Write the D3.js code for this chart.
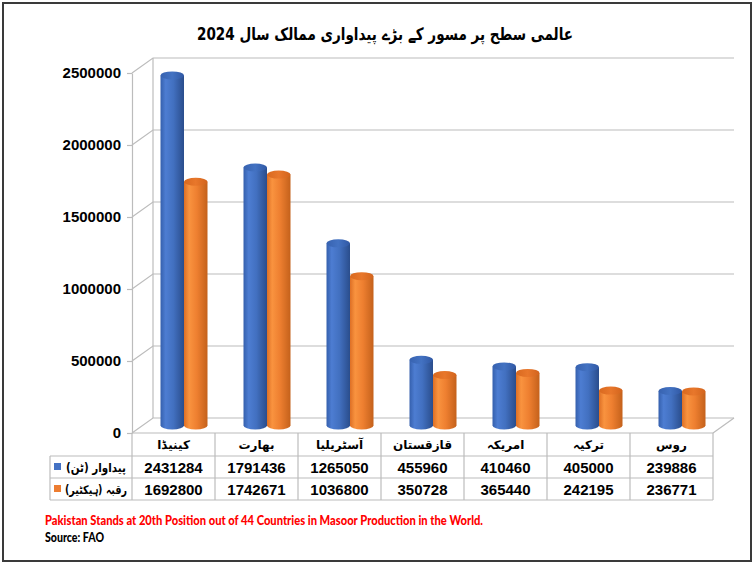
<!DOCTYPE html>
<html>
<head>
<meta charset="utf-8">
<script src="https://cdn.jsdelivr.net/npm/d3@7"></script>
<style>
  html, body { margin: 0; padding: 0; background: #fff; }
  svg { display: block; }
</style>
</head>
<body>
<svg id="chart" width="753" height="568"></svg>
<script>
// Lentil (masoor) production and harvested area of leading countries, 2024
const categories = ["کینیڈا", "بھارت", "آسٹریلیا", "قازقستان", "امریکہ", "ترکیہ", "روس"];
const production = [2431284, 1791436, 1265050, 455960, 410460, 405000, 239886];
const area = [1692800, 1742671, 1036800, 350728, 365440, 242195, 236771];
const seriesNames = ["پیداوار (ٹن)", "رقبہ (ہیکٹیر)"];
const yTicks = [0, 500000, 1000000, 1500000, 2000000, 2500000];
const titleText = "عالمی سطح پر مسور کے بڑے پیداواری ممالک سال 2024";
const noteText = "Pakistan Stands at 20th Position out of 44 Countries in Masoor Production in the World.";
const sourceText = "Source: FAO";

const series = [production, area];
const seriesKeys = ["blue", "orange"];
const keyColors = ["#4472C4", "#ED7D31"];

const svg = d3.select("#chart");
const W = 753, H = 568;

// frame layout
const plotLeft = 132, plotRight = 713, plotBase = 433, plotTop = 73;
const depthX = 21, depthY = -15;          // full depth of the 3-D floor
const gridColor = "#bcbcbc";
const rtl = s => "\u202B" + s + "\u202C";
const arabicFont = "'DejaVu Sans', 'Noto Sans', sans-serif";
const latinFont = "'Liberation Sans', Arial, sans-serif";

const x = d3.scaleBand().domain(categories).range([plotLeft, plotRight]).paddingInner(0).paddingOuter(0);
const y = d3.scaleLinear().domain([0, 2500000]).range([plotBase, plotTop]);

// outer border
svg.append("rect")
  .attr("x", 3).attr("y", 3).attr("width", W - 5).attr("height", 558)
  .attr("fill", "none").attr("stroke", "#3a3a3a").attr("stroke-width", 2);

// gradients for the cylinders
const defs = svg.append("defs");
function bodyGrad(id, stops) {
  const g = defs.append("linearGradient").attr("id", id)
    .attr("x1", "0").attr("x2", "1").attr("y1", "0").attr("y2", "0");
  stops.forEach(([o, c]) => g.append("stop").attr("offset", o).attr("stop-color", c));
}
bodyGrad("body-blue", [[0, "#3560ad"], [0.22, "#4d7dd2"], [0.55, "#4270c0"], [1, "#2a4d8c"]]);
bodyGrad("body-orange", [[0, "#dd6f25"], [0.22, "#f9933f"], [0.55, "#ee7f30"], [1, "#c4611b"]]);
bodyGrad("top-blue", [[0, "#3762b0"], [0.5, "#4372c2"], [1, "#3058a4"]]);
bodyGrad("top-orange", [[0, "#d9691f"], [0.5, "#e8772b"], [1, "#d2641d"]]);

// back wall gridlines and floor
const grid = svg.append("g");
yTicks.forEach(t => {
  const yy = y(t);
  grid.append("path")
    .attr("d", `M${plotLeft},${yy}L${plotLeft + depthX},${yy + depthY}L${plotRight + depthX},${yy + depthY}`)
    .attr("fill", "none").attr("stroke", gridColor).attr("stroke-width", 1.2);
});
grid.append("line")
  .attr("x1", plotLeft + depthX).attr("x2", plotLeft + depthX)
  .attr("y1", y(2500000) + depthY).attr("y2", plotBase + depthY)
  .attr("stroke", gridColor).attr("stroke-width", 1.2);
grid.append("path")
  .attr("d", `M${plotRight},${plotBase}L${plotRight + depthX},${plotBase + depthY}`)
  .attr("fill", "none").attr("stroke", gridColor).attr("stroke-width", 1.2);

// value axis on the front-left edge
const axis = svg.append("g")
  .attr("transform", `translate(${plotLeft},0)`)
  .call(d3.axisLeft(y).tickValues(yTicks).tickFormat(d3.format("d")).tickSize(5).tickSizeOuter(0).tickPadding(6));
axis.select(".domain").attr("stroke", gridColor).attr("stroke-width", 1.2);
axis.selectAll(".tick line").attr("stroke", gridColor).attr("stroke-width", 1.2);
axis.selectAll(".tick text")
  .attr("font-family", latinFont).attr("font-weight", "bold").attr("font-size", 15)
  .attr("fill", "#000");

// cylinders
const bw = 23.5;
const groupW = bw * 2;
const midX = depthX / 2, midY = depthY / 2;
const rx = bw / 2, ry = 4;
const bars = svg.append("g");
categories.forEach((c, i) => {
  const x0 = x(c) + (x.bandwidth() - groupW) / 2 + midX;
  series.forEach((vals, s) => {
    const bx = x0 + s * bw;
    const yb = y(0) + midY;
    const yt = y(vals[i]) + midY;
    const g = bars.append("g");
    g.append("path")
      .attr("d", `M${bx},${yt}L${bx},${yb}A${rx},${ry} 0 0 0 ${bx + bw},${yb}L${bx + bw},${yt}Z`)
      .attr("fill", `url(#body-${seriesKeys[s]})`);
    g.append("ellipse")
      .attr("cx", bx + rx).attr("cy", yt).attr("rx", rx).attr("ry", ry)
      .attr("fill", `url(#top-${seriesKeys[s]})`);
  });
});

// data table
const tableLeft = 50, rowTops = [plotBase, 456, 478, 500];
const table = svg.append("g");
const lineColor = "#bcbcbc";
table.append("line").attr("x1", plotLeft).attr("x2", plotRight).attr("y1", plotBase).attr("y2", plotBase)
  .attr("stroke", gridColor).attr("stroke-width", 1.2);
[456, 478, 500].forEach(yy => {
  table.append("line").attr("x1", tableLeft).attr("x2", plotRight).attr("y1", yy).attr("y2", yy)
    .attr("stroke", lineColor).attr("stroke-width", 1.2);
});
table.append("line").attr("x1", tableLeft).attr("x2", tableLeft).attr("y1", 456).attr("y2", 500)
  .attr("stroke", lineColor).attr("stroke-width", 1.2);
categories.forEach(c => {
  table.append("line").attr("x1", x(c)).attr("x2", x(c)).attr("y1", plotBase).attr("y2", 500)
    .attr("stroke", lineColor).attr("stroke-width", 1.2);
});
table.append("line").attr("x1", plotRight).attr("x2", plotRight).attr("y1", plotBase).attr("y2", 500)
  .attr("stroke", lineColor).attr("stroke-width", 1.2);

// category headers
categories.forEach(c => {
  table.append("text")
    .attr("x", x(c) + x.bandwidth() / 2).attr("y", 449)
    .attr("text-anchor", "middle")
    .attr("font-family", arabicFont).attr("font-weight", "bold").attr("font-size", 12)
    .attr("fill", "#000")
    .text(rtl(c));
});

// series rows
const labelWidths = [60, 62];
series.forEach((vals, s) => {
  const rowY = rowTops[s + 1];
  table.append("rect")
    .attr("x", 54).attr("y", rowY + 7).attr("width", 7).attr("height", 7)
    .attr("fill", keyColors[s]);
  table.append("text")
    .attr("x", 96).attr("y", rowY + 16)
    .attr("text-anchor", "middle")
    .attr("font-family", arabicFont).attr("font-weight", "bold").attr("font-size", 12)
    .attr("textLength", labelWidths[s]).attr("lengthAdjust", "spacingAndGlyphs")
    .attr("fill", "#000")
    .text(rtl(seriesNames[s]));
  categories.forEach((c, i) => {
    table.append("text")
      .attr("x", x(c) + x.bandwidth() / 2).attr("y", rowY + 16.5)
      .attr("text-anchor", "middle")
      .attr("font-family", latinFont).attr("font-weight", "bold").attr("font-size", 15)
      .attr("fill", "#000")
      .text(d3.format("d")(vals[i]));
  });
});

// title
svg.append("text")
  .attr("x", 385).attr("y", 40)
  .attr("text-anchor", "middle")
  .attr("font-family", arabicFont).attr("font-weight", "bold").attr("font-size", 17)
  .attr("textLength", 376).attr("lengthAdjust", "spacingAndGlyphs")
  .attr("fill", "#000")
  .text(rtl(titleText));

// footnotes
svg.append("text")
  .attr("x", 45).attr("y", 525)
  .attr("font-family", "Lato, 'Open Sans', sans-serif").attr("font-weight", "900").attr("font-size", 14)
  .attr("textLength", 438).attr("lengthAdjust", "spacingAndGlyphs")
  .attr("fill", "#ff0000")
  .text(noteText);
svg.append("text")
  .attr("x", 45).attr("y", 542)
  .attr("font-family", "Lato, 'Open Sans', sans-serif").attr("font-weight", "900").attr("font-size", 14)
  .attr("textLength", 59).attr("lengthAdjust", "spacingAndGlyphs")
  .attr("fill", "#000")
  .text(sourceText);
</script>
</body>
</html>
